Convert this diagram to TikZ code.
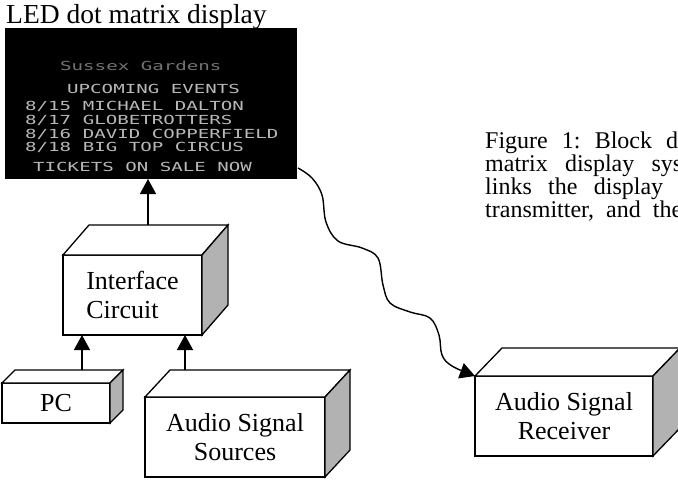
\documentclass[tikz,border=0pt]{standalone}
\usepackage{fontspec}
\setmainfont{Liberation Serif}
\newfontfamily\dmfont[FakeStretch=1.53]{DejaVu Sans Mono}
\usetikzlibrary{arrows.meta}

% front face of a block is a node; top and shaded side are drawn from its corners
\newcommand\boxfaces[3]{%
  \draw[face] (#1.north west) -- ++(#2,#3) -- ([shift={(#2,#3)}]#1.north east) -- (#1.north east) -- cycle;
  \draw[side] (#1.north east) -- ++(#2,#3) -- ([shift={(#2,#3)}]#1.south east) -- (#1.south east) -- cycle;
}

\begin{document}
\begin{tikzpicture}[x=1pt,y=-1pt,
  face/.style={draw=black, line width=1.3pt, line join=miter, fill=white},
  side/.style={draw=black, line width=1.3pt, line join=miter, fill=black!30},
  block/.style={face, rectangle, inner sep=0pt, outer sep=0pt, align=center,
                font=\fontsize{26}{29}\selectfont},
  link/.style={line width=1.4pt, -{Triangle[width=16pt,length=15pt]}},
  led/.style={anchor=base west, inner sep=0pt, text=white!72!black,
              font=\dmfont\fontsize{12.5}{13}\selectfont},
  capline/.style={anchor=base west, inner sep=0pt, font=\fontsize{24}{23}\selectfont}]
\useasboundingbox (0,0) rectangle (678,483);
\clip (0,0) rectangle (678,483);

% LED display panel and its caption
\node[anchor=base west, inner sep=0pt, font=\fontsize{27.5}{30}\selectfont] (title) at (6,23) {LED dot matrix display};
\node[fill=black, minimum width=292pt, minimum height=151pt, inner sep=0pt, outer sep=0pt] (disp) at (151,103.5) {};

\node[led, text=white!45!black] (row0) at (60,70) {Sussex Gardens};
\node[led] (row1) at (67,93) {UPCOMING EVENTS};
\node[led] (row2) at (25,110) {8/15 MICHAEL DALTON};
\node[led] (row3) at (25,124) {8/17 GLOBETROTTERS};
\node[led] (row4) at (25,138) {8/16 DAVID COPPERFIELD};
\node[led] (row5) at (25,151) {8/18 BIG TOP CIRCUS};
\node[led] (row6) at (33,171) {TICKETS ON SALE NOW};

% blocks
\node[block, align=left, minimum width=139pt, minimum height=80pt] (ifc) at (132.5,295) {Interface\\Circuit};
\boxfaces{ifc}{26}{-30}
\node[block, minimum width=108pt, minimum height=40pt] (pc) at (56,403) {PC};
\boxfaces{pc}{13}{-13}
\node[block, minimum width=180pt, minimum height=80pt] (src) at (235,437) {Audio Signal\\Sources};
\boxfaces{src}{25}{-27}
\node[block, minimum width=178pt, minimum height=80pt] (rcv) at (564,416) {Audio Signal\\Receiver};
\boxfaces{rcv}{27}{-28}

% wired links
\coordinate (ifctop) at ([shift={(15.5,-30)}]ifc.north);
\draw[link] (ifctop) -- (ifctop |- disp.south);
\coordinate (pctop) at ([shift={(26,-13)}]pc.north);
\draw[link] (pctop) -- (pctop |- ifc.south);
\coordinate (srctop) at ([shift={(-50,-27)}]src.north);
\draw[link] (srctop) -- (srctop |- ifc.south);

% wireless audio link
\coordinate (w0) at ([shift={(1,-11)}]disp.south east);
\draw[link] plot[smooth, tension=0.6] coordinates {(w0) (312,178) (322,195) (326,222) (338,241) (362,248) (378,258) (383,285) (390,303) (410,312) (430,318) (439,335) (442,355) (452,366) (rcv.north west)};

% caption text
\node[capline] (cap1) at (485,148) {\hbox to 193pt{Figure\hfill 1:\hfill Block\hfill d}};
\node[capline] (cap2) at (485,171) {\hbox to 197pt{matrix\hfill display\hfill sys}};
\node[capline] (cap3) at (485,194) {\hbox to 178pt{links\hfill the\hfill display}};
\node[capline] (cap4) at (485,217) {\hbox to 197pt{transmitter,\hfill and\hfill the}};
\end{tikzpicture}
\end{document}
